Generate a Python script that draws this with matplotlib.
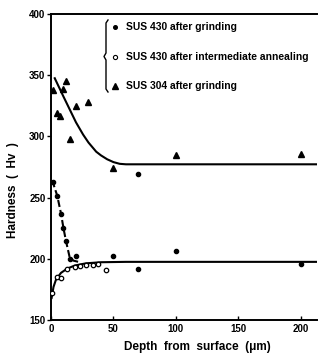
import matplotlib
matplotlib.use('Agg')
import matplotlib.pyplot as plt
from matplotlib.lines import Line2D

plt.rcParams['font.family'] = ['Liberation Sans', 'DejaVu Sans']
plt.rcParams['font.weight'] = 'bold'

# SUS 304 after grinding (triangles)
s304_x = [2, 4.5, 7, 10, 12, 15, 20, 30, 50, 100, 200]
s304_y = [338, 319, 317, 339, 345, 298, 325, 328, 274, 285, 285.5]

# SUS 430 after grinding (filled dots)
g430_x = [1.5, 5, 8, 10, 12, 15, 20, 50, 70, 70, 100, 200]
g430_y = [262.5, 251.5, 237, 225, 214.5, 199.5, 202.5, 202.5, 269, 192, 206.5, 196]

# SUS 430 after intermediate annealing (open circles)
a430_x = [1, 4.5, 8, 13, 19, 23, 28, 34, 38, 44]
a430_y = [172, 185.5, 184, 191.5, 193.5, 194, 195, 195, 195.5, 190.5]

# hand-drawn trend curves
c304_x = [3, 10, 15, 20, 25.7, 30, 36.2, 40, 45, 50, 55, 60, 213]
c304_y = [347.5, 332.5, 322, 311.5, 301.5, 295, 287.5, 284.5, 281.3, 279, 277.6, 277.2, 277.2]
cg_x = [1, 5, 8, 10, 12, 15, 18, 22]
cg_y = [264, 251.5, 237, 225, 214.5, 201, 198.5, 197.5]
ca_x = [0.5, 2, 4, 8, 13, 19, 28, 40, 60, 213]
ca_y = [168, 177, 183, 188.5, 192, 194.5, 196.3, 197.2, 197.5, 197.5]

legend_labels = ['SUS 430 after grinding',
                 'SUS 430 after intermediate annealing',
                 'SUS 304 after grinding']

W, H = 323, 356
fig = plt.figure(figsize=(W / 100, H / 100), dpi=100)
ax = fig.add_axes([51 / W, 36 / H, (317 - 51) / W, (320 - 14) / H])

ax.plot(c304_x, c304_y, color='black', lw=1.5, zorder=2)
ax.plot(cg_x, cg_y, color='black', lw=1.5, dashes=(3.4, 1.5), zorder=2)
ax.plot(ca_x, ca_y, color='black', lw=1.5, zorder=2)

ax.plot(s304_x, s304_y, '^', color='black', ms=4, ls='none', zorder=3)
ax.plot(g430_x, g430_y, 'o', color='black', ms=3, ls='none', zorder=3)
ax.plot(a430_x, a430_y, 'o', mfc='white', mec='black', mew=0.9, ms=3.2, ls='none', zorder=3)

ax.set_xlim(0, 213)
ax.set_ylim(150, 400)
ax.set_xticks([0, 50, 100, 150, 200])
ax.set_yticks([150, 200, 250, 300, 350, 400])
ax.tick_params(axis='x', direction='in', length=3, width=1, labelsize=7, pad=3)
ax.tick_params(axis='y', direction='out', length=3, width=1, labelsize=7, pad=1)
ax.spines['right'].set_visible(False)
for s in ['left', 'bottom', 'top']:
    ax.spines[s].set_linewidth(1.4)

fig.text(13 / W, 1 - 190 / H, 'Hardness  (  Hv  )', rotation=90, ha='center',
         va='center', fontsize=8.5, weight='bold')
fig.text(197 / W, 1 - 347 / H, 'Depth  from  surface  (\u03bcm)', ha='center',
         va='center', fontsize=8.5, weight='bold')

# legend with bracket
rows = [26.7, 56.7, 86]
styles = [dict(marker='o', color='black', ms=2.6),
          dict(marker='o', mfc='white', mec='black', mew=0.8, ms=3),
          dict(marker='^', color='black', ms=4)]
for yy, lab, st in zip(rows, legend_labels, styles):
    fig.add_artist(Line2D([115 / W], [1 - yy / H], ls='none', **st))
    fig.text(126 / W, 1 - yy / H, lab, ha='left', va='center', fontsize=7.4, weight='bold')

bx = [108, 106, 106, 104, 106, 106, 108]
by = [20, 23, 53, 56.5, 60, 89, 92]
fig.add_artist(Line2D([x / W for x in bx], [1 - y / H for y in by], color='black', lw=1))

plt.savefig('out.png', dpi=100)
